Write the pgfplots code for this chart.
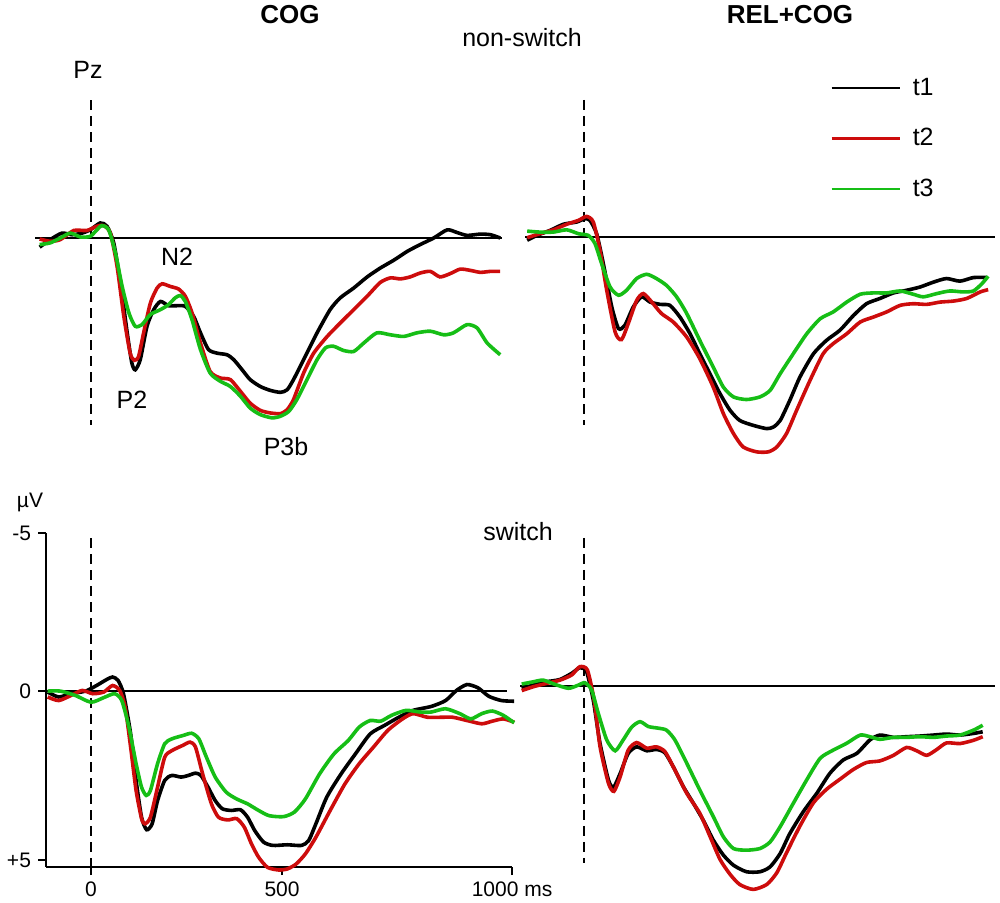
\documentclass[border=0pt]{standalone}
\usepackage{pgfplots}
\pgfplotsset{compat=1.18}
\usepackage{fontspec}
\setmainfont{Liberation Sans}
\definecolor{cblack}{RGB}{0,0,0}
\definecolor{cred}{RGB}{205,12,12}
\definecolor{cgreen}{RGB}{22,190,22}
\pgfplotsset{
  erp/.style={x=0.2105pt, y=16.35pt, y dir=reverse, enlargelimits=false, clip=false, anchor=south west},
  hidden/.style={erp, hide axis, xmin=-170, xmax=1010, ymin=-6, ymax=7},
  t1/.style={cblack, line width=1.8pt, smooth, tension=0.4},
  t2/.style={cred, line width=1.8pt, smooth, tension=0.4},
  t3/.style={cgreen, line width=1.8pt, smooth, tension=0.4},
}
\tikzset{zl/.style={black, line width=1pt}, dl/.style={black, line width=1.3pt, dash pattern=on 5pt off 3pt}}
\newcommand{\lab}{\fontsize{12.5}{14}\selectfont}
\begin{document}
\begin{tikzpicture}
\useasboundingbox (0,0) rectangle (500pt,451pt);
% ---------------- top-left: COG non-switch
\begin{axis}[hidden, at={(9.715pt,217.55pt)}]
\draw[zl] (axis cs:-133,0) -- (axis cs:976,0);
\draw[dl] (axis cs:0,-4.22) -- (axis cs:0,5.72);
\addplot[t1] coordinates {(-122,0.28)(-97,0.05)(-69,-0.15)(-45,-0.10)(-21,-0.15)(-2,-0.25)(22,-0.46)(38,-0.36)(54,0.15)(70,1.38)(86,2.9)(97,3.82)(105,4.03)(117,3.72)(133,2.7)(149,2.19)(165,1.94)(184,2.07)(204,2.07)(224,2.09)(244,2.4)(260,2.9)(279,3.41)(299,3.52)(323,3.57)(339,3.72)(359,4.03)(378,4.33)(402,4.54)(426,4.66)(450,4.72)(466,4.64)(481,4.33)(505,3.72)(537,2.9)(568,2.19)(592,1.83)(624,1.53)(656,1.19)(687,0.92)(719,0.68)(751,0.41)(782,0.2)(814,0)(846,-0.25)(869,-0.17)(893,-0.08)(925,-0.12)(949,-0.1)(972,0)};
\addplot[t2] coordinates {(-122,0.03)(-97,0.1)(-73,0.05)(-41,-0.23)(-10,-0.23)(14,-0.36)(30,-0.38)(46,-0.15)(62,0.87)(78,2.4)(93,3.52)(103,3.74)(113,3.62)(125,2.9)(141,1.99)(157,1.53)(169,1.4)(188,1.48)(208,1.56)(224,1.78)(240,2.29)(260,3.21)(283,4.08)(307,4.28)(331,4.33)(355,4.69)(378,5.05)(402,5.27)(426,5.35)(450,5.37)(466,5.25)(481,4.94)(505,4.13)(529,3.52)(561,3.01)(592,2.6)(624,2.19)(656,1.78)(687,1.36)(711,1.22)(735,1.25)(758,1.19)(782,1.07)(806,1.02)(829,1.19)(853,1.09)(877,0.95)(901,0.99)(925,1.05)(949,1.02)(972,1.02)};
\addplot[t3] coordinates {(-122,0.2)(-97,0.15)(-73,0)(-49,-0.15)(-25,-0.03)(-2,-0.05)(14,-0.25)(26,-0.38)(42,-0.25)(58,0.46)(74,1.48)(90,2.29)(105,2.7)(121,2.65)(141,2.34)(165,2.19)(184,2.04)(200,1.83)(212,1.76)(224,1.94)(240,2.5)(260,3.41)(283,4.13)(307,4.38)(331,4.54)(355,4.84)(378,5.2)(402,5.4)(430,5.5)(450,5.45)(470,5.3)(489,4.94)(513,4.33)(537,3.72)(557,3.36)(576,3.31)(600,3.44)(624,3.47)(648,3.21)(679,2.9)(711,2.96)(743,3.01)(774,2.9)(806,2.85)(838,2.96)(861,2.9)(893,2.65)(917,2.75)(941,3.21)(972,3.57)};
\end{axis}
% ---------------- top-right: REL+COG non-switch
\begin{axis}[hidden, at={(256.215pt,218.05pt)},
  legend style={at={(axis cs:584,-5.0)}, anchor=north west, draw=none, fill=none, font=\lab, row sep=11pt, column sep=4pt, inner sep=0pt, nodes={inner sep=2pt}},
  legend cell align=left,
  legend image code/.code={\draw[#1,line width=1.25pt] (0pt,0pt) -- (34pt,0pt);}]
\draw[zl] (axis cs:-140,0) -- (axis cs:977,0);
\draw[dl] (axis cs:0,-4.19) -- (axis cs:0,5.75);
\addplot[t1] coordinates {(-135,0.1)(-112,-0.05)(-81,-0.2)(-49,-0.39)(-17,-0.46)(2,-0.56)(14,-0.51)(30,-0.1)(46,0.82)(66,2.14)(82,2.8)(97,2.7)(117,2.14)(137,1.83)(157,1.99)(181,2.06)(204,2.09)(228,2.45)(252,2.96)(275,3.57)(299,4.18)(323,4.79)(347,5.3)(370,5.61)(402,5.76)(434,5.86)(450,5.81)(466,5.61)(489,4.99)(513,4.28)(545,3.57)(576,3.16)(608,2.85)(640,2.4)(671,2.04)(703,1.88)(735,1.71)(766,1.63)(798,1.53)(830,1.38)(861,1.27)(893,1.35)(925,1.24)(956,1.24)};
\addlegendentry{t1}
\addplot[t2] coordinates {(-135,0.02)(-105,-0.1)(-73,-0.22)(-41,-0.39)(-13,-0.51)(6,-0.63)(22,-0.46)(38,0.41)(54,1.63)(74,2.91)(89,3.14)(105,2.65)(125,1.94)(141,1.73)(161,1.99)(184,2.34)(212,2.6)(244,3.06)(275,3.72)(307,4.59)(331,5.4)(355,6.01)(378,6.42)(410,6.57)(438,6.57)(458,6.42)(481,6.01)(505,5.3)(537,4.38)(568,3.57)(592,3.26)(624,2.96)(656,2.6)(687,2.45)(719,2.29)(751,2.09)(782,2.04)(814,2.06)(846,1.99)(877,1.96)(909,1.88)(941,1.68)(960,1.61)};
\addlegendentry{t2}
\addplot[t3] coordinates {(-135,-0.18)(-105,-0.15)(-73,-0.15)(-41,-0.22)(-13,-0.1)(10,-0.05)(26,0.2)(42,0.82)(62,1.53)(82,1.78)(101,1.63)(125,1.27)(149,1.14)(172,1.27)(196,1.48)(220,1.83)(244,2.34)(275,3.16)(307,3.98)(331,4.59)(355,4.89)(386,4.97)(418,4.89)(442,4.69)(466,4.18)(497,3.57)(529,2.96)(561,2.5)(592,2.29)(624,1.99)(656,1.75)(687,1.71)(719,1.71)(751,1.65)(782,1.75)(806,1.83)(838,1.73)(869,1.65)(901,1.68)(925,1.65)(945,1.43)(960,1.2)};
\addlegendentry{t3}
\end{axis}
% ---------------- bottom-right: REL+COG switch
\begin{axis}[hidden, at={(256.215pt,-6.45pt)}]
\draw[zl] (axis cs:-152,0) -- (axis cs:977,0);
\draw[dl] (axis cs:0,-4.53) -- (axis cs:0,5.41);
\addplot[t1] coordinates {(-148,0.07)(-120,-0.03)(-89,-0.13)(-57,-0.2)(-29,-0.39)(-10,-0.56)(6,-0.44)(22,0.43)(38,1.75)(58,2.87)(70,3.1)(86,2.67)(105,2.06)(125,1.86)(149,1.98)(172,1.94)(192,2.04)(212,2.47)(236,3.08)(260,3.59)(283,4.1)(307,4.71)(331,5.17)(355,5.48)(386,5.68)(418,5.68)(442,5.53)(466,5.12)(489,4.51)(521,3.84)(553,3.28)(584,2.67)(616,2.26)(648,2.06)(679,1.65)(703,1.5)(735,1.57)(766,1.55)(798,1.53)(830,1.5)(861,1.47)(893,1.5)(925,1.45)(947,1.4)};
\addplot[t2] coordinates {(-148,0.14)(-120,0.02)(-89,-0.08)(-57,-0.18)(-29,-0.34)(-10,-0.59)(8,-0.49)(24,0.43)(38,1.85)(58,2.97)(71,3.22)(86,2.77)(105,1.96)(125,1.73)(149,1.9)(172,1.86)(192,2.0)(212,2.47)(244,3.28)(275,3.89)(299,4.59)(323,5.3)(347,5.76)(370,6.07)(402,6.22)(434,6.07)(458,5.71)(481,5.1)(513,4.28)(545,3.57)(576,3.16)(608,2.85)(640,2.55)(671,2.34)(703,2.29)(735,2.12)(766,1.88)(790,1.98)(814,2.12)(838,1.94)(861,1.74)(893,1.76)(925,1.66)(947,1.55)};
\addplot[t3] coordinates {(-148,-0.06)(-120,-0.13)(-97,-0.18)(-69,-0.05)(-37,0.07)(-13,-0.03)(2,-0.1)(18,0.12)(34,0.84)(54,1.65)(74,1.98)(93,1.65)(113,1.26)(133,1.09)(153,1.24)(177,1.29)(196,1.35)(216,1.65)(244,2.36)(275,3.18)(307,3.99)(331,4.61)(355,4.97)(386,5.02)(418,4.97)(442,4.77)(466,4.3)(497,3.59)(529,2.87)(561,2.21)(592,1.96)(624,1.75)(656,1.5)(679,1.55)(703,1.63)(735,1.57)(766,1.57)(798,1.55)(830,1.57)(861,1.53)(893,1.5)(925,1.35)(947,1.2)};
\end{axis}
% ---------------- bottom-left: COG switch (with axes)
\begin{axis}[erp, at={(23pt,17.5pt)},
  xmin=-107, xmax=1000, ymin=-4.83, ymax=5.38,
  axis x line*=bottom, axis y line*=left,
  axis line style={line width=1.2pt},
  xtick={0,453.7,1000}, xticklabels={0,500,1000 ms},
  ytick={-4.83,0,5.17}, yticklabels={-5,0,+5},
  tick align=outside, major tick length=4pt,
  tick style={line width=1.1pt, black},
  ticklabel style={font=\fontsize{10.5}{12}\selectfont}]
\draw[zl] (axis cs:-107,0) -- (axis cs:988,0);
\draw[dl] (axis cs:0,-4.68) -- (axis cs:0,5.38);
\addplot[t1] coordinates {(-103,0.03)(-77,0.18)(-47,0.08)(-13,0)(13,-0.17)(38,-0.36)(51,-0.43)(64,-0.33)(77,0.08)(94,1.3)(107,2.73)(120,3.86)(132,4.24)(145,4.06)(158,3.35)(175,2.73)(192,2.58)(214,2.63)(231,2.58)(248,2.51)(261,2.58)(278,2.94)(295,3.35)(312,3.6)(333,3.65)(355,3.63)(372,3.86)(389,4.27)(410,4.62)(432,4.72)(466,4.70)(500,4.72)(517,4.57)(534,4.06)(560,3.24)(594,2.53)(628,1.92)(663,1.31)(697,1.05)(731,0.80)(765,0.59)(808,0.47)(842,0.29)(868,-0.02)(893,-0.2)(919,-0.1)(945,0.16)(975,0.29)(1005,0.31)};
\addplot[t2] coordinates {(-103,0.18)(-77,0.29)(-47,0.13)(-21,-0.02)(4,0.08)(30,0.03)(51,-0.17)(68,-0.02)(81,0.49)(94,1.71)(107,3.04)(120,3.9)(128,4.06)(141,3.86)(158,2.94)(175,2.02)(192,1.82)(218,1.66)(235,1.56)(248,1.71)(265,2.53)(286,3.45)(303,3.86)(325,3.94)(346,3.9)(364,4.16)(381,4.67)(398,5.08)(419,5.39)(445,5.47)(466,5.44)(487,5.29)(509,4.98)(534,4.47)(568,3.65)(603,2.84)(637,2.22)(671,1.71)(705,1.2)(740,0.85)(765,0.69)(799,0.8)(834,0.8)(859,0.8)(893,0.9)(928,1.0)(953,0.92)(979,0.85)(1005,0.95)};
\addplot[t3] coordinates {(-103,0)(-73,0)(-38,0.13)(0,0.34)(30,0.2)(56,0.08)(73,0.29)(90,1.1)(107,2.22)(120,2.94)(131,3.19)(141,3.04)(158,2.22)(175,1.61)(192,1.46)(218,1.36)(239,1.29)(256,1.46)(274,2.02)(295,2.63)(321,3.09)(346,3.3)(372,3.45)(398,3.65)(423,3.81)(457,3.84)(483,3.7)(509,3.3)(543,2.53)(577,1.92)(611,1.51)(637,1.1)(663,0.9)(688,0.92)(714,0.74)(748,0.59)(782,0.64)(808,0.64)(842,0.54)(876,0.69)(902,0.85)(928,0.69)(953,0.61)(979,0.74)(1005,0.97)};
\end{axis}
% ---------------- texts
\node[font=\fontsize{13}{15}\selectfont\bfseries] at (145pt,443.5pt) {COG};
\node[font=\fontsize{13}{15}\selectfont\bfseries] at (395pt,443.5pt) {REL+COG};
\node[font=\lab] at (261pt,432pt) {non-switch};
\node[font=\lab] at (259pt,185pt) {switch};
\node[font=\lab] at (44pt,416pt) {Pz};
\node[font=\lab] at (88.5pt,322.5pt) {N2};
\node[font=\lab] at (66pt,251pt) {P2};
\node[font=\lab] at (143pt,227.5pt) {P3b};
\node[font=\fontsize{10.5}{12}\selectfont] at (15pt,200pt) {µV};
\end{tikzpicture}
\end{document}
